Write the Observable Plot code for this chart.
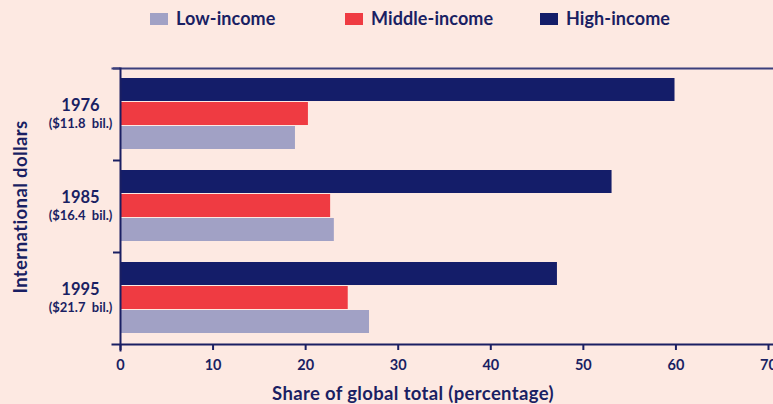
<!DOCTYPE html>
<html><head><meta charset="utf-8">
<script src="https://cdn.jsdelivr.net/npm/d3@7"></script>
<script src="https://cdn.jsdelivr.net/npm/@observablehq/plot@0.6"></script>
<style>
  html,body{margin:0;padding:0;background:#fde9e2;}
  #wrap{position:relative;width:773px;height:404px;overflow:hidden;font-family:Lato,"Open Sans",sans-serif;font-weight:700;color:#1a1f63;}
  #chart{position:absolute;left:0;top:0;}
  .leg{position:absolute;top:8px;font-size:18px;line-height:21px;letter-spacing:0.1px;white-space:nowrap;}
  .leg i{display:inline-block;width:18px;height:12px;margin-right:8px;vertical-align:0px;}
  #ytitle{position:absolute;left:20px;top:207px;transform:translate(-50%,-50%) rotate(-90deg);font-size:18.5px;letter-spacing:0.4px;white-space:nowrap;}
  #xtitle{position:absolute;left:413px;top:393px;transform:translate(-50%,-50%);font-size:18.5px;letter-spacing:0.35px;white-space:nowrap;}
</style></head><body>
<div id="wrap">
  <div id="chart"></div>
  <div id="legend"></div>
  <div id="ytitle">International dollars</div>
  <div id="xtitle">Share of global total (percentage)</div>
</div>
<script>
const years = ["1976", "1985", "1995"];
const amounts = ["($11.8  bil.)", "($16.4  bil.)", "($21.7  bil.)"];
const groups = ["High-income", "Middle-income", "Low-income"];
const legendOrder = ["Low-income", "Middle-income", "High-income"];
const highIncome = [59.9, 53.1, 47.2];
const middleIncome = [20.3, 22.7, 24.6];
const lowIncome = [18.9, 23.1, 26.9];
const xTicks = [0, 10, 20, 30, 40, 50, 60, 70];
const colors = ["#141d69", "#ef3b42", "#a1a1c5"];
const navy = "#1a1f63";

const series = {"High-income": highIncome, "Middle-income": middleIncome, "Low-income": lowIncome};
const rows = years.flatMap((yr, i) => groups.map(g => ({year: yr, group: g, value: series[g][i]})));
const labels = years.map((yr, i) => ({year: yr, amount: amounts[i]}));

const chart = Plot.plot({
  width: 773, height: 404,
  marginTop: 67, marginBottom: 60, marginLeft: 120, marginRight: 5,
  style: {background: "transparent", fontFamily: "Lato, 'Open Sans', sans-serif", color: navy, overflow: "visible"},
  x: {domain: [0, 70], ticks: xTicks},
  fy: {domain: years, padding: 0, axis: null},
  y: {domain: groups, paddingInner: 0.04, paddingOuter: 0.365, axis: null},
  color: {domain: groups, range: colors},
  marks: [
    Plot.barX(rows, {fy: "year", y: "group", x: "value", fill: "group"}),
    Plot.text(labels, {fy: "year", text: "year", frameAnchor: "left", dx: -40, dy: -9, textAnchor: "middle", fontSize: 16.5, fontWeight: 700, fill: navy, style: "letter-spacing:0.8px"}),
    Plot.text(labels, {fy: "year", text: "amount", frameAnchor: "left", dx: -40, dy: 9, textAnchor: "middle", fontSize: 13, fontWeight: 700, fill: navy, style: "letter-spacing:1.2px;white-space:pre"}),
    Plot.axisFy({anchor: "left", tickSize: 7, tickFormat: () => "", label: null, dy: -46, stroke: navy, strokeWidth: 2}),
    Plot.frame({facet: "super", anchor: "top", insetLeft: -8, insetRight: -5, stroke: "#3b3f7c", strokeWidth: 2}),
    Plot.frame({facet: "super", anchor: "bottom", insetLeft: -8, insetRight: -5, stroke: navy, strokeWidth: 2}),
    Plot.frame({facet: "super", anchor: "left", insetBottom: -6, stroke: navy, strokeWidth: 2}),
    Plot.axisX({anchor: "bottom", ticks: xTicks, tickSize: 6, tickPadding: 9, label: null, fontSize: 14.5, fontWeight: 700, stroke: navy, strokeWidth: 2, fill: navy, style: "letter-spacing:1px"})
  ]
});
document.getElementById("chart").appendChild(chart);

const legend = document.getElementById("legend");
const legendX = [150, 345, 540];
legendOrder.forEach((g, i) => {
  const d = document.createElement("div");
  d.className = "leg";
  d.style.left = legendX[i] + "px";
  const sw = document.createElement("i");
  sw.style.background = colors[groups.indexOf(g)];
  d.appendChild(sw);
  d.appendChild(document.createTextNode(g));
  legend.appendChild(d);
});
</script>
</body></html>
